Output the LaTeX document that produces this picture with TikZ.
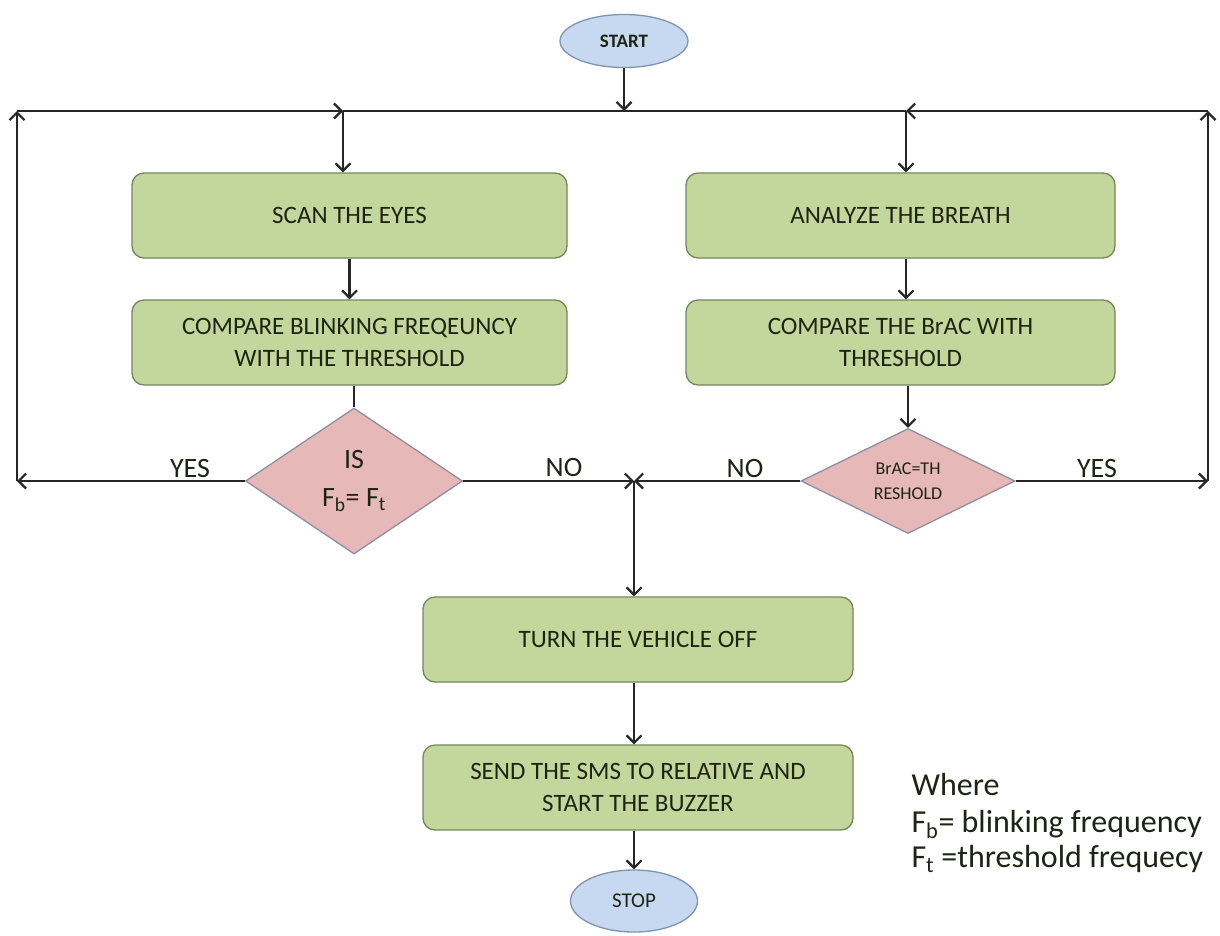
\documentclass[tikz,border=0pt]{standalone}
\usepackage{fontspec}
\setmainfont{Carlito}
\usetikzlibrary{shapes.geometric,arrows.meta}
\definecolor{boxfill}{HTML}{C3D69B}
\definecolor{boxborder}{HTML}{74865A}
\definecolor{decfill}{HTML}{E6B9B8}
\definecolor{decborder}{HTML}{8E8EA0}
\definecolor{ellfill}{HTML}{C6D9F1}
\definecolor{ellborder}{HTML}{7F93B3}
\definecolor{linecol}{HTML}{262626}
\definecolor{txtcol}{HTML}{1E2414}
\begin{document}
\begin{tikzpicture}[x=1pt,y=-1pt,
  proc/.style={draw=boxborder, fill=boxfill, rounded corners=12pt, line width=1.3pt,
    minimum height=85pt, inner sep=0pt, align=center, text=txtcol,
    font=\fontsize{25}{32.5}\selectfont},
  dec/.style={diamond, aspect=2, draw=decborder, fill=decfill, line width=1.3pt,
    inner sep=0pt, align=center, text=txtcol},
  term/.style={ellipse, draw=ellborder, fill=ellfill, line width=1.3pt,
    inner sep=0pt, text=txtcol},
  conn/.style={draw=linecol, line width=2.2pt},
  arr/.style={conn, -{Straight Barb[length=7.5pt,width=15pt,line width=2.2pt]}},
  lbl/.style={anchor=base, font=\fontsize{28}{34}\selectfont, text=txtcol},
  legend/.style={anchor=base west, font=\fontsize{32}{36}\selectfont, text=txtcol}
]
\useasboundingbox (0,0) rectangle (1220,935);

% terminals
\node[term, minimum width=128pt, minimum height=53pt, font=\fontsize{19}{22}\selectfont\bfseries] (start) at (624,41) {START};
\node[term, minimum width=127pt, minimum height=62pt, font=\fontsize{21}{24}\selectfont] (stop) at (634,901) {STOP};

% process boxes
\node[proc, minimum width=435pt] (scan) at (349.5,215.5) {SCAN THE EYES};
\node[proc, minimum width=429pt] (ana) at (900.5,215.5) {ANALYZE THE BREATH};
\node[proc, minimum width=435pt] (cmp1) at (349.5,342.5) {COMPARE BLINKING FREQEUNCY\\WITH THE THRESHOLD};
\node[proc, minimum width=429pt] (cmp2) at (900.5,342.5) {COMPARE THE BrAC WITH\\THRESHOLD};
\node[proc, minimum width=430pt] (turn) at (638,639.5) {TURN THE VEHICLE OFF};
\node[proc, minimum width=430pt] (send) at (638,787.5) {SEND THE SMS TO RELATIVE AND\\START THE BUZZER};

% decisions
\node[dec, minimum width=217pt, minimum height=146pt, font=\fontsize{28}{38}\selectfont] (d1) at (354,481) {IS\\F\textsubscript{b}= F\textsubscript{t}};
\node[dec, minimum width=214pt, minimum height=105pt, font=\fontsize{18}{25}\selectfont] (d2) at (908,481) {BrAC=TH\\RESHOLD};

% junction coordinates
\coordinate (tl) at (17,111);
\coordinate (tr) at (1208,111);
\coordinate (jl) at (343,111);
\coordinate (jr) at (906,111);
\coordinate (bl) at (17,481);
\coordinate (br) at (1208,481);
\coordinate (jn) at (634,481);

% connectors
\draw[arr] (start.south) -- (start.south |- tl);
\draw[conn] (jl) -- (jr);
\draw[arr] (d1.west) -- (bl);
\draw[arr] (bl) -- (tl);
\draw[arr] (tl) -- (jl);
\draw[arr] (d2.east) -- (br);
\draw[arr] (br) -- (tr);
\draw[arr] (tr) -- (jr);
\draw[arr] (jl) -- (jl |- scan.north);
\draw[arr] (jr) -- (jr |- ana.north);
\draw[arr] (scan.south) -- (cmp1.north);
\draw[arr] (jr |- ana.south) -- (jr |- cmp2.north);
\draw[conn] (d1.north |- cmp1.south) -- (d1.north);
\draw[arr] (d2.north |- cmp2.south) -- (d2.north);
\draw[arr] (d1.east) -- (jn);
\draw[arr] (d2.west) -- (jn);
\draw[arr] (jn) -- (jn |- turn.north);
\draw[arr] (jn |- turn.south) -- (jn |- send.north);
\draw[arr] (jn |- send.south) -- (stop.north);

% branch labels
\node[lbl] (yesl) at (190,477) {YES};
\node[lbl] (nol) at (564,476) {NO};
\node[lbl] (nor) at (745,477) {NO};
\node[lbl] (yesr) at (1097,477) {YES};

% legend
\node[legend] (lg1) at (908,795) {Where};
\node[legend] (lg2) at (908,832) {F\textsubscript{b}= blinking frequency};
\node[legend] (lg3) at (908,867) {F\textsubscript{t} =threshold frequecy};
\end{tikzpicture}
\end{document}
